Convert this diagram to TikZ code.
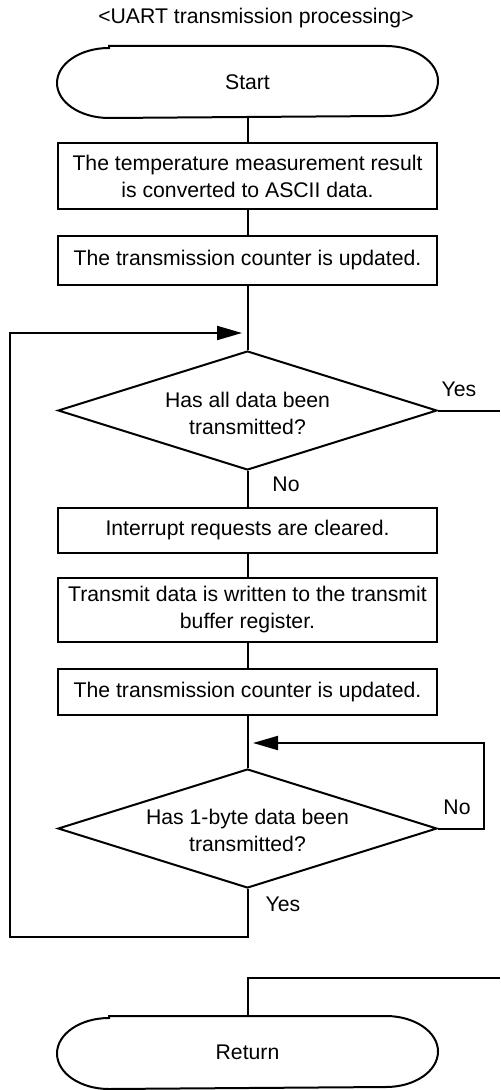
\documentclass[tikz,border=0pt]{standalone}
\usepackage{fontspec}
\setmainfont{Liberation Sans}
\usetikzlibrary{shapes.geometric,arrows.meta}
\begin{document}
\begin{tikzpicture}[x=0.5pt,y=-0.5pt,
  line width=1pt,
  every node/.style={font=\fontsize{10.6}{13.5}\selectfont},
  procbox/.style={draw, rectangle, minimum width=189.5pt, inner sep=0pt, align=center},
  termbox/.style={rectangle, minimum width=189.5pt, inner sep=0pt},
  decbox/.style={draw, diamond, aspect=3.18, minimum width=189.5pt, minimum height=59.5pt, inner sep=0pt},
  dectext/.style={align=center, inner sep=0pt},
  arr/.style={-{Triangle[length=12.5pt,width=7pt]}},
  lbl/.style={inner sep=0pt}]
\fill[white] (0,0) rectangle (500,1090);
\useasboundingbox (0,0) rectangle (500,1090);

\node[anchor=base] (title) at (256,24) {<UART transmission processing>};

\node[termbox, minimum height=35pt] (start) at (247.5,82) {Start};
\draw ([xshift=26pt]start.north west) -- ([xshift=-26pt]start.north east)
  arc[start angle=90,end angle=-90,x radius=26pt,y radius=17.5pt]
  -- ([xshift=26pt]start.south west)
  arc[start angle=270,end angle=90,x radius=26pt,y radius=17.5pt] -- cycle;

\node[procbox, minimum height=33pt] (b1) at (247.5,176) {The temperature measurement result\\is converted to ASCII data.};
\node[procbox, minimum height=24.5pt] (b2) at (247.5,260.5) {The transmission counter is updated.};
\node[decbox] (d1) at (247.5,410.5) {};
\node[dectext] (d1t) at (247.5,413) {Has all data been\\transmitted?};
\node[procbox, minimum height=22.5pt] (b3) at (247.5,530.5) {Interrupt requests are cleared.};
\node[procbox, minimum height=32pt] (b4) at (247.5,610) {Transmit data is written to the transmit\\buffer register.};
\node[procbox, minimum height=23pt] (b5) at (247.5,692) {The transmission counter is updated.};
\node[decbox] (d2) at (247.5,828.5) {};
\node[dectext] (d2t) at (247.5,830) {Has 1-byte data been\\transmitted?};

\node[termbox, minimum height=35.5pt] (ret) at (247.5,1052.5) {Return};
\draw ([xshift=26pt]ret.north west) -- ([xshift=-26pt]ret.north east)
  arc[start angle=90,end angle=-90,x radius=26pt,y radius=17.75pt]
  -- ([xshift=26pt]ret.south west)
  arc[start angle=270,end angle=90,x radius=26pt,y radius=17.75pt] -- cycle;

\node[lbl] (yes1) at (459,389) {Yes};
\node[lbl] (no1) at (286,484) {No};
\node[lbl] (no2) at (457,807) {No};
\node[lbl] (yes2) at (283,904) {Yes};

\coordinate (tip1) at (242,333);
\coordinate (c1) at (10,937);
\coordinate (exit1) at (500,410.5);
\coordinate (c2) at (484,743);
\coordinate (tip2) at (253,743);
\coordinate (entry) at (500,978);

\draw (start) -- (b1);
\draw (b1) -- (b2);
\draw (b2) -- (d1);
\draw (d1) -- (b3);
\draw (b3) -- (b4);
\draw (b4) -- (b5);
\draw (b5) -- (d2);
\draw (d1.east) -- (exit1);
\draw[arr] (d2.south) |- (c1) |- (tip1);
\draw[arr] (d2.east) -| (c2) -- (tip2);
\draw (entry) -| (ret.north);
\end{tikzpicture}
\end{document}
